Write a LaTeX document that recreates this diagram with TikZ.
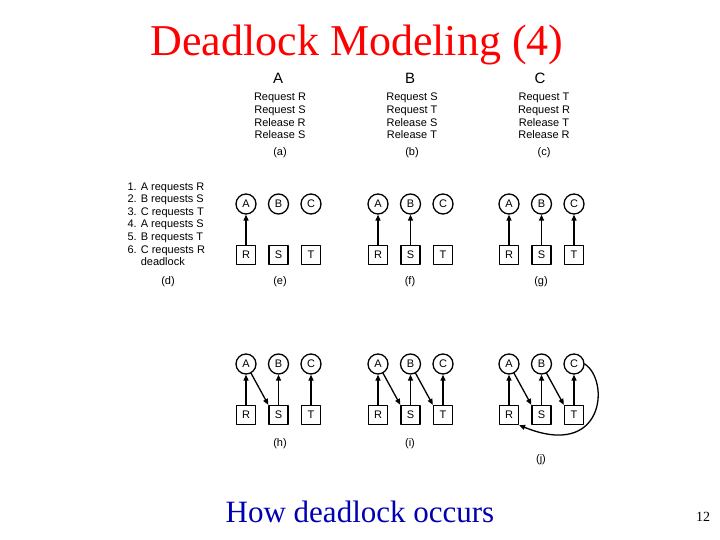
\documentclass[tikz,border=0pt]{standalone}
\usepackage{fontspec}
\setmainfont{Liberation Serif}
\setsansfont{Liberation Sans}
\usetikzlibrary{arrows.meta}
\tikzset{
  proc/.style={draw, line width=1.3pt, circle, minimum size=20pt, inner sep=0pt, font=\sffamily\fontsize{11}{11}\selectfont},
  res/.style={draw, line width=1.3pt, rectangle, minimum size=19pt, inner sep=0pt, font=\sffamily\fontsize{11}{11}\selectfont},
  edge/.style={-{Triangle[length=6pt,width=5pt]}, line width=1.3pt},
  small/.style={font=\sffamily\fontsize{11}{12.6}\selectfont, align=center}
}
% one group of processes and resources, #1 = prefix, #2 = x of first column, #3 = y of circles
\newcommand{\ragnodes}[3]{%
  \node[proc] (#1A) at (#2,#3) {A};
  \node[proc] (#1B) at (#2+32.5,#3) {B};
  \node[proc] (#1C) at (#2+65,#3) {C};
  \node[res] (#1R) at (#2,#3+51) {R};
  \node[res] (#1S) at (#2+32.5,#3+51) {S};
  \node[res] (#1T) at (#2+65,#3+51) {T};
}
\begin{document}
\begin{tikzpicture}[x=1pt, y=-1pt, line cap=round, line join=round]
\useasboundingbox (0,0) rectangle (720,540);

\node[text=red, font=\fontsize{44}{44}\selectfont] (title) at (357,45) {Deadlock Modeling (4)};

% the three programs
\node[font=\sffamily\fontsize{15}{15}\selectfont] (pa) at (278,78) {A};
\node[font=\sffamily\fontsize{15}{15}\selectfont] (pb) at (410,78) {B};
\node[font=\sffamily\fontsize{15}{15}\selectfont] (pc) at (540,78) {C};
\node[small] (la) at (280,116) {Request R\\Request S\\Release R\\Release S};
\node[small] (lb) at (412,116) {Request S\\Request T\\Release S\\Release T};
\node[small] (lc) at (544,116) {Request T\\Request R\\Release T\\Release R};
\node[small] (ca) at (280,153) {(a)};
\node[small] (cb) at (412,153) {(b)};
\node[small] (cc) at (544,153) {(c)};

% order of requests
\node[small, align=left, anchor=north west] (steps) at (124,179) {1. A requests R\\2. B requests S\\3. C requests T\\4. A requests S\\5. B requests T\\6. C requests R\\\phantom{6. }deadlock};
\node[small] (cd) at (168,282) {(d)};

% upper row of graphs
\ragnodes{e}{246}{204}
\draw[edge] (eR) -- (eA);
\node[small] (ce) at (280,282) {(e)};

\ragnodes{f}{378}{204}
\draw[edge] (fR) -- (fA);
\draw[edge] (fS) -- (fB);
\node[small] (cf) at (410,282) {(f)};

\ragnodes{g}{509}{204}
\draw[edge] (gR) -- (gA);
\draw[edge] (gS) -- (gB);
\draw[edge] (gT) -- (gC);
\node[small] (cg) at (541,282) {(g)};

% lower row of graphs
\ragnodes{h}{246}{364}
\draw[edge] (hR) -- (hA);
\draw[edge] (hS) -- (hB);
\draw[edge] (hT) -- (hC);
\draw[edge] (hA) -- (hS.north west);
\node[small] (ch) at (280,444) {(h)};

\ragnodes{i}{378}{364}
\draw[edge] (iR) -- (iA);
\draw[edge] (iS) -- (iB);
\draw[edge] (iT) -- (iC);
\draw[edge] (iA) -- (iS.north west);
\draw[edge] (iB) -- (iT.north west);
\node[small] (ci) at (410,444) {(i)};

\ragnodes{j}{509}{364}
\draw[edge] (jR) -- (jA);
\draw[edge] (jS) -- (jB);
\draw[edge] (jT) -- (jC);
\draw[edge] (jA) -- (jS.north west);
\draw[edge] (jB) -- (jT.north west);
\draw[edge] (jC.east) .. controls (610,380) and (605,460) .. (jR.south east);
\node[small] (cj) at (541,460) {(j)};

\node[text=blue!70!black, font=\fontsize{31}{31}\selectfont] (foot) at (360,512) {How deadlock occurs};
\node[font=\fontsize{14}{14}\selectfont] (page) at (703,517) {12};
\end{tikzpicture}
\end{document}
